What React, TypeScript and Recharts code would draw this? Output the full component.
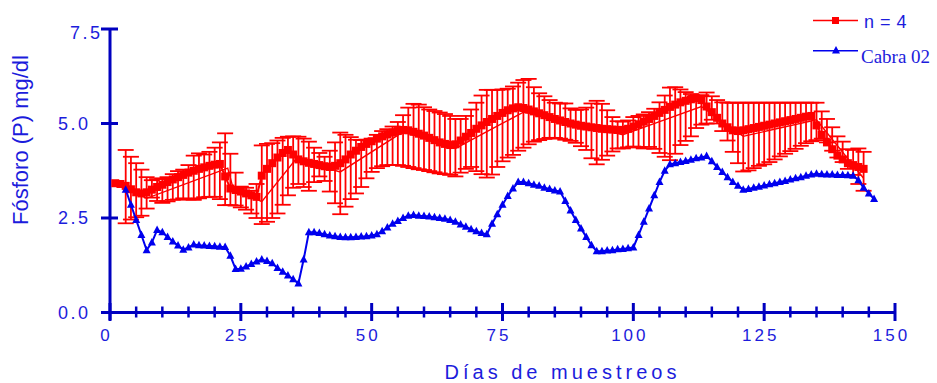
import { LineChart, Line, XAxis, YAxis, ErrorBar, ReferenceLine, Legend } from "recharts";

// ---------------------------------------------------------------------------
// Colores y tipografía
// ---------------------------------------------------------------------------

const ROJO = "#ff0000";
const AZUL = "#0000ee";
const EJE = "#0000c0";
const TEXTO = "#1c1cdc";
const SANS = '"Liberation Sans", Arial, sans-serif';
const SERIF = '"Liberation Serif", "Times New Roman", serif';

// ---------------------------------------------------------------------------
// Datos (mg/dl de fósforo por día de muestreo)
// ---------------------------------------------------------------------------

// curva de puntos cuadrados, días 1..144
const DIA_INICIO_MEDIA = 1;
const mediaPuntos = [
  3.42, 3.40, 3.35, 3.26, 3.18, 3.15, 3.18, 3.25, 3.32, 3.38,
  3.45, 3.52, 3.58, 3.64, 3.70, 3.75, 3.80, 3.84, 3.88, 3.91,
  3.93, 3.60, 3.28, 3.24, 3.20, 3.15, 3.10, 3.06, 3.62, 3.80,
  3.95, 4.10, 4.22, 4.30, 4.18, 4.05, 4.00, 3.96, 3.93, 3.90,
  3.87, 3.85, 3.88, 3.95, 4.05, 4.18, 4.28, 4.38, 4.46, 4.53,
  4.60, 4.66, 4.71, 4.76, 4.80, 4.83, 4.82, 4.78, 4.73, 4.68,
  4.62, 4.56, 4.50, 4.46, 4.43, 4.45, 4.55, 4.65, 4.75, 4.86,
  4.95, 5.04, 5.12, 5.20, 5.28, 5.35, 5.40, 5.43, 5.41, 5.37,
  5.32, 5.27, 5.22, 5.17, 5.12, 5.08, 5.04, 5.00, 4.97, 4.94,
  4.92, 4.90, 4.88, 4.86, 4.85, 4.84, 4.83, 4.83, 4.86, 4.92,
  4.98, 5.05, 5.12, 5.20, 5.28, 5.36, 5.44, 5.50, 5.56, 5.60,
  5.64, 5.67, 5.62, 5.45, 5.30, 5.15, 5.00, 4.90, 4.82, 4.80,
  4.82, 4.85, 4.88, 4.91, 4.94, 4.97, 5.00, 5.03, 5.06, 5.09,
  5.12, 5.15, 5.18, 5.20, 4.95, 4.70, 4.50, 4.32, 4.15, 4.05,
  3.95, 3.90, 3.85, 3.80,
];

// extremos de las barras de error (media ± DE), días 3..144
const DIA_INICIO_BARRAS = 3;
const barraSup = [
  4.30, 4.12, 3.95, 3.78, 3.58, 3.50, 3.53, 3.55, 3.58, 3.66,
  3.74, 3.78, 3.90, 4.15, 4.21, 4.18, 4.25, 4.36, 4.50, 4.74,
  4.20, 3.70, 3.33, 3.30, 3.22, 3.40, 4.42, 4.46, 4.48, 4.55,
  4.62, 4.65, 4.66, 4.65, 4.60, 4.52, 4.36, 4.22, 4.12, 4.28,
  4.50, 4.76, 4.70, 4.64, 4.57, 4.56, 4.57, 4.60, 4.70, 4.80,
  4.85, 4.92, 5.04, 5.22, 5.42, 5.52, 5.50, 5.43, 5.37, 5.33,
  5.29, 5.25, 5.20, 5.12, 5.12, 5.20, 5.37, 5.55, 5.74, 5.89,
  5.89, 5.89, 5.90, 5.92, 5.98, 6.08, 6.15, 6.18, 5.96, 5.80,
  5.72, 5.62, 5.55, 5.53, 5.53, 5.40, 5.36, 5.37, 5.42, 5.53,
  5.60, 5.52, 5.35, 5.17, 5.06, 5.05, 5.08, 5.17, 5.20, 5.24,
  5.30, 5.39, 5.56, 5.74, 5.95, 5.96, 5.90, 5.83, 5.78, 5.73,
  5.75, 5.82, 5.72, 5.62, 5.56, 5.55, 5.55, 5.55, 5.55, 5.55,
  5.55, 5.55, 5.55, 5.55, 5.55, 5.55, 5.55, 5.55, 5.55, 5.55,
  5.55, 5.55, 5.55, 5.32, 5.12, 4.90, 4.66, 4.52, 4.32, 4.30,
  4.34, 4.25,
];
const barraInf = [
  2.36, 2.46, 2.52, 2.56, 2.75, 3.04, 2.95, 2.90, 2.94, 2.98,
  2.99, 3.02, 2.99, 2.98, 3.02, 3.05, 3.06, 3.06, 3.00, 2.84,
  2.84, 2.83, 2.78, 2.72, 2.62, 2.50, 2.34, 2.40, 2.50, 2.62,
  2.85, 3.10, 3.30, 3.40, 3.32, 3.22, 3.45, 3.60, 3.48, 3.20,
  2.89, 2.60, 2.80, 3.00, 3.15, 3.32, 3.55, 3.72, 3.82, 3.87,
  3.90, 3.90, 3.90, 3.88, 3.85, 3.82, 3.79, 3.77, 3.74, 3.71,
  3.68, 3.66, 3.64, 3.60, 3.70, 3.80, 3.85, 3.74, 3.66, 3.57,
  3.65, 3.85, 4.00, 4.10, 4.17, 4.28, 4.36, 4.45, 4.52, 4.56,
  4.59, 4.62, 4.62, 4.60, 4.57, 4.54, 4.49, 4.40, 4.30, 4.08,
  3.92, 4.04, 4.15, 4.26, 4.34, 4.34, 4.37, 4.39, 4.37, 4.34,
  4.38, 4.33, 4.22, 4.12, 4.03, 4.20, 4.43, 4.54, 4.66, 4.88,
  4.97, 5.00, 5.10, 5.00, 4.80, 4.55, 4.25, 3.95, 3.73, 3.76,
  3.82, 3.88, 3.92, 3.98, 4.05, 4.13, 4.20, 4.27, 4.33, 4.41,
  4.48, 4.53, 4.56, 4.60, 4.50, 4.28, 4.10, 3.98, 3.80, 3.64,
  3.40, 3.22,
];

// línea fina de la media entre muestreos
const diasTendencia = [3, 7, 22.5, 23.5, 29, 35.5, 44, 56, 66, 79, 98, 113, 121, 135, 144];
const valoresTendencia = [3.30, 3.02, 3.82, 3.30, 2.93, 4.05, 3.72, 4.78, 4.34, 5.30, 4.70, 5.45, 4.66, 5.10, 3.55];

// Cabra 02, días 3..146
const DIA_INICIO_CABRA = 3;
const cabra02 = [
  3.25, 2.85, 2.45, 2.05, 1.65, 1.85, 2.18, 2.12, 2.00, 1.88,
  1.77, 1.66, 1.72, 1.80, 1.78, 1.77, 1.76, 1.75, 1.74, 1.73,
  1.50, 1.15, 1.16, 1.22, 1.28, 1.35, 1.40, 1.36, 1.30, 1.18,
  1.08, 0.98, 0.88, 0.77, 1.40, 2.12, 2.12, 2.10, 2.07, 2.04,
  2.02, 2.00, 1.99, 1.99, 2.00, 2.01, 2.02, 2.04, 2.07, 2.15,
  2.25, 2.35, 2.42, 2.50, 2.56, 2.58, 2.56, 2.55, 2.54, 2.52,
  2.50, 2.48, 2.45, 2.40, 2.33, 2.27, 2.20, 2.15, 2.10, 2.07,
  2.35, 2.60, 2.85, 3.08, 3.28, 3.45, 3.45, 3.42, 3.38, 3.35,
  3.30, 3.27, 3.23, 3.20, 2.95, 2.70, 2.45, 2.22, 2.00, 1.78,
  1.62, 1.62, 1.64, 1.65, 1.67, 1.68, 1.70, 1.72, 2.05, 2.40,
  2.75, 3.10, 3.45, 3.75, 3.92, 3.95, 3.98, 4.01, 4.04, 4.08,
  4.10, 4.14, 4.00, 3.85, 3.72, 3.58, 3.45, 3.35, 3.25, 3.27,
  3.30, 3.33, 3.36, 3.39, 3.42, 3.45, 3.48, 3.52, 3.55, 3.58,
  3.62, 3.65, 3.67, 3.66, 3.65, 3.65, 3.64, 3.64, 3.63, 3.62,
  3.50, 3.30, 3.15, 3.00,
];

const ticksX = [
  0, 5, 10, 15, 20, 25, 30, 35, 40, 45, 50, 55, 60, 65, 70, 75,
  80, 85, 90, 95, 100, 105, 110, 115, 120, 125, 130, 135, 140, 145, 150,
];
const ticksY = [0, 2.5, 5, 7.5];

// ---------------------------------------------------------------------------
// Tablas para Recharts
// ---------------------------------------------------------------------------

const serieMedia = mediaPuntos.map((v, i) => ({ dia: DIA_INICIO_MEDIA + i, valor: v }));

const serieBarras = barraSup.map((sup, i) => ({
  dia: DIA_INICIO_BARRAS + i,
  centro: (sup + barraInf[i]) / 2,
  de: (sup - barraInf[i]) / 2,
}));

const serieTendencia = diasTendencia.map((d, i) => ({ dia: d, valor: valoresTendencia[i] }));

const serieCabra = cabra02.map((v, i) => ({ dia: DIA_INICIO_CABRA + i, valor: v }));

// ---------------------------------------------------------------------------
// Marcadores
// ---------------------------------------------------------------------------

function Cuadro({ cx, cy, lado = 8 }: { cx?: number; cy?: number; lado?: number }) {
  if (cx == null || cy == null) return null;
  return <rect x={cx - lado / 2} y={cy - lado / 2} width={lado} height={lado} fill={ROJO} />;
}

function Triangulo({ cx, cy }: { cx?: number; cy?: number }) {
  if (cx == null || cy == null) return null;
  return <polygon points={`${cx},${cy - 4.5} ${cx - 4},${cy + 3} ${cx + 4},${cy + 3}`} fill={AZUL} />;
}

// ---------------------------------------------------------------------------
// Ticks que cruzan el eje (estilo Prism)
// ---------------------------------------------------------------------------

function TickX({ x, y, payload }: { x?: number; y?: number; payload?: { value: number } }) {
  if (x == null || y == null || !payload) return null;
  const mayor = payload.value % 25 === 0;
  return (
    <g>
      <line
        x1={x}
        x2={x}
        y1={y - (mayor ? 9.5 : 6)}
        y2={y + (mayor ? 8.5 : 5)}
        stroke={EJE}
        strokeWidth={mayor ? 3 : 2.5}
      />
      {mayor && (
        <text
          x={x - 3.5}
          y={y + 28.5}
          textAnchor="middle"
          fill={TEXTO}
          fontSize={17}
          fontFamily={SANS}
          style={{ letterSpacing: "3px" }}
        >
          {payload.value}
        </text>
      )}
    </g>
  );
}

function TickY({ x, y, payload }: { x?: number; y?: number; payload?: { value: number } }) {
  if (x == null || y == null || !payload) return null;
  const tope = payload.value === 7.5;
  return (
    <g>
      <line x1={x - 9} x2={x + 8} y1={y} y2={y} stroke={EJE} strokeWidth={3} />
      <text
        x={tope ? x - 7.5 : x - 19.5}
        y={tope ? y + 10 : y + 6.3}
        textAnchor="end"
        fill={TEXTO}
        fontSize={18}
        fontFamily={SANS}
        style={{ letterSpacing: "2.5px" }}
      >
        {payload.value.toFixed(1)}
      </text>
    </g>
  );
}

// ---------------------------------------------------------------------------
// Leyenda
// ---------------------------------------------------------------------------

function Leyenda() {
  return (
    <svg width={137} height={70} style={{ display: "block" }}>
      <line x1={13} x2={58} y1={20.5} y2={20.5} stroke={ROJO} strokeWidth={1.5} />
      <Cuadro cx={35.5} cy={20.5} lado={7} />
      <text x={64} y={27.5} fill={TEXTO} fontSize={18} fontFamily={SANS} style={{ letterSpacing: "0.5px" }}>
        n = 4
      </text>
      <line x1={13} x2={58} y1={50.7} y2={50.7} stroke={AZUL} strokeWidth={1.5} />
      <Triangulo cx={36} cy={50.5} />
      <text x={61} y={62.5} fill={TEXTO} fontSize={19} fontFamily={SERIF}>
        Cabra 02
      </text>
    </svg>
  );
}

// ---------------------------------------------------------------------------
// Gráfico
// ---------------------------------------------------------------------------

export default function App() {
  return (
    <div style={{ position: "absolute", left: 0, top: 0, background: "#fff" }}>
      <LineChart width={937} height={383} margin={{ top: 29, right: 42, bottom: 10.5, left: 0 }}>
        <XAxis
          type="number"
          dataKey="dia"
          domain={[0, 150]}
          allowDataOverflow
          ticks={ticksX}
          interval={0}
          axisLine={false}
          tickLine={false}
          tickSize={0}
          tickMargin={0}
          height={60}
          tick={<TickX />}
        />
        <YAxis
          type="number"
          domain={[0, 7.5]}
          allowDataOverflow
          ticks={ticksY}
          interval={0}
          axisLine={false}
          tickLine={false}
          tickSize={0}
          tickMargin={0}
          width={110}
          tick={<TickY />}
        />

        {/* ejes desplazados, el horizontal sobresale a la izquierda y el vertical por debajo */}
        <ReferenceLine
          segment={[{ x: -1.7, y: 0 }, { x: 150, y: 0 }]}
          ifOverflow="visible"
          stroke={EJE}
          strokeWidth={3}
        />
        <ReferenceLine
          segment={[{ x: 0, y: -0.2 }, { x: 0, y: 7.5 }]}
          ifOverflow="visible"
          stroke={EJE}
          strokeWidth={3}
        />

        {/* barras de error alrededor de la media */}
        <Line
          data={serieBarras}
          dataKey="centro"
          stroke="none"
          dot={false}
          activeDot={false}
          legendType="none"
          isAnimationActive={false}
        >
          <ErrorBar dataKey="de" direction="y" width={8} stroke={ROJO} strokeWidth={1.8} />
        </Line>

        <Line
          data={serieTendencia}
          dataKey="valor"
          stroke={ROJO}
          strokeWidth={1.4}
          dot={false}
          activeDot={false}
          legendType="none"
          isAnimationActive={false}
        />

        <Line
          data={serieMedia}
          dataKey="valor"
          name="n = 4"
          stroke={ROJO}
          strokeWidth={2}
          dot={(p: Record<string, unknown>) => (
            <Cuadro key={`m-${p.index}`} cx={p.cx as number} cy={p.cy as number} />
          )}
          activeDot={false}
          isAnimationActive={false}
        />

        <Line
          data={serieCabra}
          dataKey="valor"
          name="Cabra 02"
          stroke={AZUL}
          strokeWidth={2}
          dot={(p: Record<string, unknown>) => (
            <Triangulo key={`c-${p.index}`} cx={p.cx as number} cy={p.cy as number} />
          )}
          activeDot={false}
          isAnimationActive={false}
        />

        <Legend
          layout="horizontal"
          verticalAlign="middle"
          align="center"
          content={() => <Leyenda />}
          wrapperStyle={{ position: "absolute", left: 800, top: 0, width: 137, height: 70 }}
        />

        {/* títulos de los ejes */}
        <text
          x={28}
          y={140}
          transform="rotate(-90, 28, 140)"
          textAnchor="middle"
          fill={TEXTO}
          fontSize={22}
          fontFamily={SANS}
        >
          Fósforo (P) mg/dl
        </text>
        <text
          x={562.5}
          y={378.5}
          textAnchor="middle"
          fill={TEXTO}
          fontSize={20}
          fontFamily={SANS}
          style={{ letterSpacing: "4px" }}
        >
          Días de muestreos
        </text>
      </LineChart>
    </div>
  );
}
